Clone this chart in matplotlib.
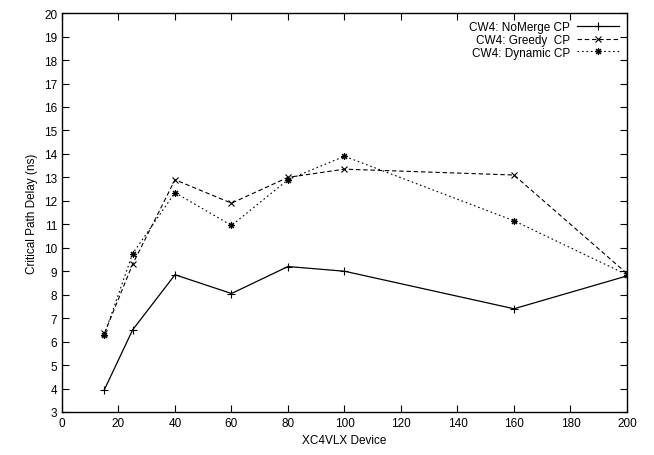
import matplotlib
matplotlib.use("Agg")
import matplotlib.pyplot as plt

devices = [15, 25, 40, 60, 80, 100, 160, 200]
nomerge = [3.95, 6.5, 8.85, 8.05, 9.2, 9.0, 7.4, 8.8]
greedy = [6.35, 9.3, 12.9, 11.9, 13.0, 13.35, 13.1, 8.9]
dynamic = [6.3, 9.75, 12.35, 10.95, 12.9, 13.9, 11.15, 8.85]

plt.rcParams['font.family'] = ['Liberation Sans', 'DejaVu Sans']
fig = plt.figure(figsize=(6.54, 4.56), dpi=100)
ax = fig.add_axes([0.0948, 0.0943, 0.8639, 0.8747])

ax.plot(devices, nomerge, color='black', lw=0.9, ls='-', marker='+', ms=5.5, mew=0.8,
        label='CW4: NoMerge CP')
ax.plot(devices, greedy, color='black', lw=0.8, ls=(0, (4, 2.5)), marker='x', ms=4.5, mew=0.8,
        label='CW4: Greedy  CP')
ax.plot(devices, dynamic, color='black', lw=0.8, ls=(0, (1.5, 2.5)), marker=(8, 2, 0), ms=5, mew=0.8,
        label='CW4: Dynamic CP')

ax.set_xlim(0, 200)
ax.set_ylim(3, 20)
ax.set_xticks(range(0, 201, 20))
ax.set_yticks(range(3, 21))
ax.tick_params(direction='in', top=True, right=True, labelsize=8.5, length=5, width=0.8)
for s in ax.spines.values():
    s.set_linewidth(1.0)
ax.set_xlabel('XC4VLX Device', fontsize=8.5)
ax.set_ylabel('Critical Path Delay (ns)', fontsize=8.5)

leg = ax.legend(loc='upper right', frameon=False, markerfirst=False, fontsize=8.5,
                handlelength=3.5, borderaxespad=0.3, labelspacing=0.05, handletextpad=0.6)

fig.savefig('out.png', dpi=100)
